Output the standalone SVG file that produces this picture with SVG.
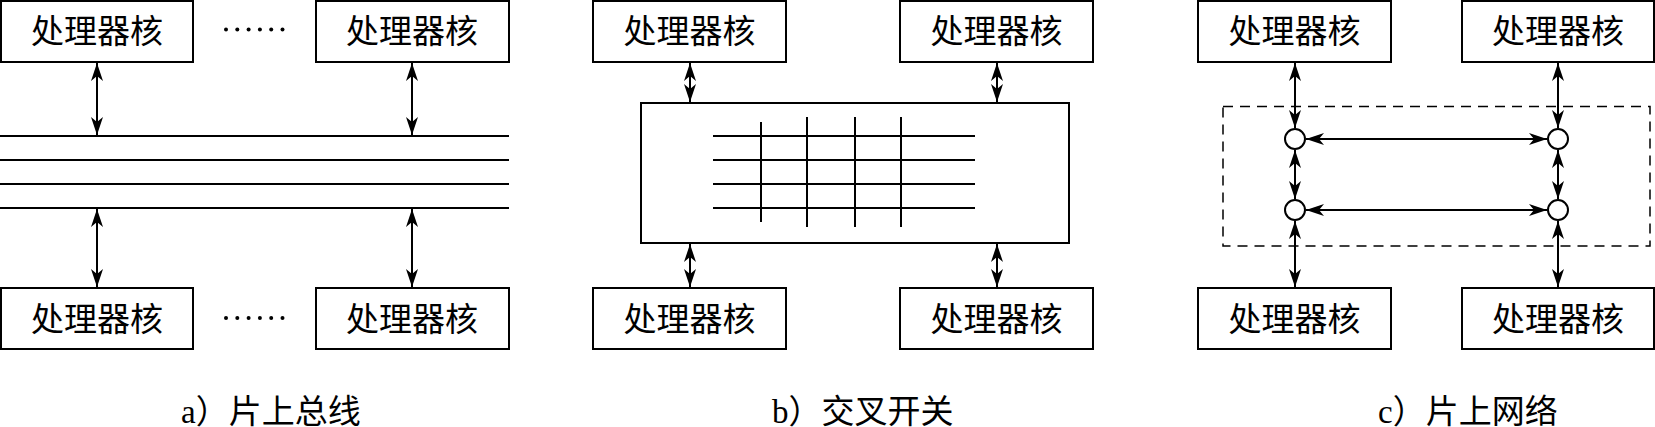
<svg xmlns="http://www.w3.org/2000/svg" width="1655" height="427" viewBox="0 0 1655 427">
<style>
.box{fill:#fff;stroke:#000;stroke-width:2}
.lbl{font-family:"Noto Sans CJK SC",sans-serif;font-size:33px;text-anchor:middle;fill:#000}
.cap{font-family:"Liberation Serif","Noto Sans CJK SC",serif;font-size:33px;fill:#000}
.ln{stroke:#000;stroke-width:2;fill:none}
.arr{stroke:#000;stroke-width:2;fill:none;marker-start:url(#ah);marker-end:url(#ah)}
.dash{fill:none;stroke:#000;stroke-width:1.5;stroke-dasharray:10 7}
.node{fill:#fff;stroke:#000;stroke-width:2}
</style>
<defs>
<marker id="ah" markerUnits="userSpaceOnUse" viewBox="-20 -8 22 16" refX="0" refY="0" markerWidth="22" markerHeight="16" orient="auto-start-reverse">
<path d="M0,0 L-18,-6 L-13,0 L-18,6 Z" fill="#000"/>
</marker>
</defs>
<rect width="1655" height="427" fill="#fff"/>

<!-- Panel a -->
<g id="a-core-tl"><rect class="box" x="1" y="1" width="192" height="61"/><text class="lbl" x="97" y="43">处理器核</text></g>
<g id="a-core-tr"><rect class="box" x="316" y="1" width="193" height="61"/><text class="lbl" x="412" y="43">处理器核</text></g>
<g id="a-core-bl"><rect class="box" x="1" y="288" width="192" height="61"/><text class="lbl" x="97" y="331">处理器核</text></g>
<g id="a-core-br"><rect class="box" x="316" y="288" width="193" height="61"/><text class="lbl" x="412" y="331">处理器核</text></g>
<g id="a-dots" fill="#000">
<circle cx="226" cy="29.5" r="2"/><circle cx="237.3" cy="29.5" r="2"/><circle cx="248.6" cy="29.5" r="2"/><circle cx="259.9" cy="29.5" r="2"/><circle cx="271.2" cy="29.5" r="2"/><circle cx="282.5" cy="29.5" r="2"/>
<circle cx="226" cy="318" r="2"/><circle cx="237.3" cy="318" r="2"/><circle cx="248.6" cy="318" r="2"/><circle cx="259.9" cy="318" r="2"/><circle cx="271.2" cy="318" r="2"/><circle cx="282.5" cy="318" r="2"/>
</g>
<g id="a-bus">
<line class="ln" x1="0" y1="136" x2="509" y2="136"/>
<line class="ln" x1="0" y1="160" x2="509" y2="160"/>
<line class="ln" x1="0" y1="184" x2="509" y2="184"/>
<line class="ln" x1="0" y1="208" x2="509" y2="208"/>
</g>

<!-- Panel b -->
<g id="b-core-tl"><rect class="box" x="593" y="1" width="193" height="61"/><text class="lbl" x="689.5" y="43">处理器核</text></g>
<g id="b-core-tr"><rect class="box" x="900" y="1" width="193" height="61"/><text class="lbl" x="996.5" y="43">处理器核</text></g>
<g id="b-core-bl"><rect class="box" x="593" y="288" width="193" height="61"/><text class="lbl" x="689.5" y="331">处理器核</text></g>
<g id="b-core-br"><rect class="box" x="900" y="288" width="193" height="61"/><text class="lbl" x="996.5" y="331">处理器核</text></g>
<g id="b-switch">
<rect class="box" x="641" y="103" width="428" height="140"/>
<line class="ln" x1="713" y1="136" x2="975" y2="136"/>
<line class="ln" x1="713" y1="160" x2="975" y2="160"/>
<line class="ln" x1="713" y1="184" x2="975" y2="184"/>
<line class="ln" x1="713" y1="208" x2="975" y2="208"/>
<line class="ln" x1="761" y1="122" x2="761" y2="222"/>
<line class="ln" x1="807" y1="117" x2="807" y2="227"/>
<line class="ln" x1="855" y1="117" x2="855" y2="227"/>
<line class="ln" x1="901" y1="117" x2="901" y2="227"/>
</g>

<!-- Panel c -->
<g id="c-core-tl"><rect class="box" x="1198" y="1" width="193" height="61"/><text class="lbl" x="1294.5" y="43">处理器核</text></g>
<g id="c-core-tr"><rect class="box" x="1462" y="1" width="192" height="61"/><text class="lbl" x="1558" y="43">处理器核</text></g>
<g id="c-core-bl"><rect class="box" x="1198" y="288" width="193" height="61"/><text class="lbl" x="1294.5" y="331">处理器核</text></g>
<g id="c-core-br"><rect class="box" x="1462" y="288" width="192" height="61"/><text class="lbl" x="1558" y="331">处理器核</text></g>
<g id="c-noc"><rect class="dash" x="1223" y="106.5" width="427" height="139.5"/></g>

<!-- Connectors -->
<g id="connectors">
<line class="arr" x1="97" y1="63" x2="97" y2="135"/>
<line class="arr" x1="412" y1="63" x2="412" y2="135"/>
<line class="arr" x1="97" y1="209" x2="97" y2="287"/>
<line class="arr" x1="412" y1="209" x2="412" y2="287"/>

<line class="arr" x1="690" y1="63" x2="690" y2="102"/>
<line class="arr" x1="997" y1="63" x2="997" y2="102"/>
<line class="arr" x1="690" y1="244" x2="690" y2="287"/>
<line class="arr" x1="997" y1="244" x2="997" y2="287"/>

<line class="arr" x1="1295" y1="63" x2="1295" y2="128"/>
<line class="arr" x1="1558" y1="63" x2="1558" y2="128"/>
<line class="arr" x1="1295" y1="150" x2="1295" y2="199"/>
<line class="arr" x1="1558" y1="150" x2="1558" y2="199"/>
<line class="arr" x1="1295" y1="221" x2="1295" y2="287"/>
<line class="arr" x1="1558" y1="221" x2="1558" y2="287"/>
<line class="arr" x1="1306" y1="139" x2="1547" y2="139"/>
<line class="arr" x1="1306" y1="210" x2="1547" y2="210"/>
</g>
<g id="c-routers">
<circle class="node" cx="1295" cy="139" r="10"/>
<circle class="node" cx="1558" cy="139" r="10"/>
<circle class="node" cx="1295" cy="210" r="10"/>
<circle class="node" cx="1558" cy="210" r="10"/>
</g>

<!-- Captions -->
<text class="cap" x="181" y="423">a）片上总线</text>
<text class="cap" x="772" y="423">b）交叉开关</text>
<text class="cap" x="1378" y="423">c）片上网络</text>
</svg>
